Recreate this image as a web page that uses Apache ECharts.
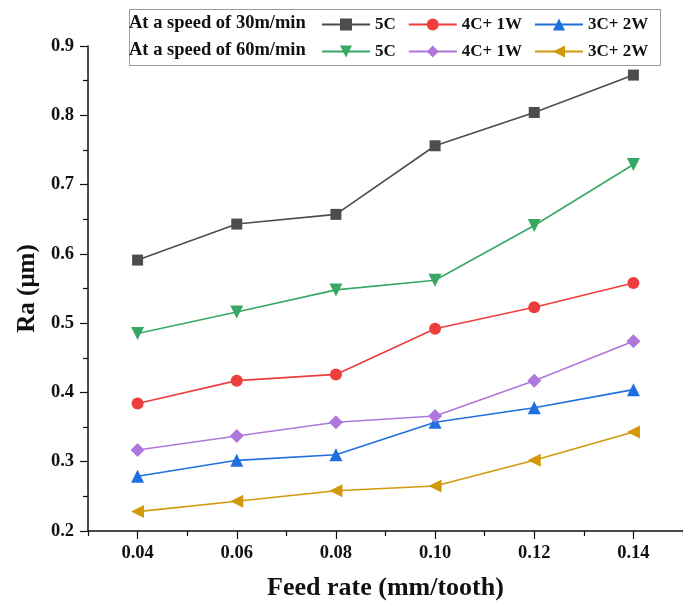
<!DOCTYPE html>
<html>
<head>
<meta charset="utf-8">
<script src="https://cdn.jsdelivr.net/npm/echarts@6/dist/echarts.min.js"></script>
<style>
  html, body { margin: 0; padding: 0; background: #fff; }
  #chart { width: 683px; height: 606px; }
</style>
</head>
<body>
<div id="chart"></div>
<script>
const feedRates = [0.04, 0.06, 0.08, 0.10, 0.12, 0.14]
const xTicks = [0.04, 0.06, 0.08, 0.10, 0.12, 0.14]
const xMinorTicks = [0.03, 0.05, 0.07, 0.09, 0.11, 0.13, 0.15]

// speed 30 m/min
const s30_5C = [0.591, 0.643, 0.657, 0.756, 0.804, 0.858]
const s30_4C1W = [0.384, 0.417, 0.426, 0.492, 0.523, 0.558]
const s30_3C2W = [0.279, 0.302, 0.310, 0.357, 0.378, 0.404]
// speed 60 m/min
const s60_5C = [0.485, 0.516, 0.548, 0.562, 0.641, 0.729]
const s60_4C1W = [0.317, 0.337, 0.357, 0.366, 0.417, 0.474]
const s60_3C2W = [0.228, 0.243, 0.258, 0.265, 0.302, 0.343]

const rowLabels = ['At a speed of 30m/min', 'At a speed of 60m/min']

const FONT = '"Liberation Serif", "DejaVu Serif", serif'
const downTri = 'path://M0,0 L10,0 L5,9 Z'
const leftTri = 'path://M10,0 L10,10 L1,5 Z'

const mk = (name, data, color, symbol, size) => ({
  name,
  type: 'line',
  data: data.map((v, i) => [feedRates[i], v]),
  symbol,
  symbolSize: size,
  color,
  lineStyle: { width: 1.6, color },
  itemStyle: { color },
  emphasis: { disabled: true },
  animation: false
})

const series = [
  mk('a|5C', s30_5C, '#4d4d4d', 'rect', 11),
  mk('a|4C+ 1W', s30_4C1W, '#ee3d3d', 'circle', 12),
  mk('a|3C+ 2W', s30_3C2W, '#1f6fde', 'triangle', 13),
  mk('b|5C', s60_5C, '#37a864', downTri, 13),
  mk('b|4C+ 1W', s60_4C1W, '#b077db', 'diamond', 14),
  mk('b|3C+ 2W', s60_3C2W, '#d29a0a', leftTri, 13)
]

const legendBase = {
  left: 321,
  padding: 0,
  itemWidth: 48,
  itemHeight: 15,
  itemGap: 12,
  selectedMode: false,
  formatter: n => n.split('|')[1],
  textStyle: { fontFamily: FONT, fontSize: 17, fontWeight: 'bold', color: '#111' }
}

const chart = echarts.init(document.getElementById('chart'))
chart.setOption({
  backgroundColor: '#fff',
  animation: false,
  grid: { left: 88, top: 46, width: 604, height: 487 },
  legend: [
    Object.assign({}, legendBase, { top: 16, data: series.slice(0, 3).map(s => s.name) }),
    Object.assign({}, legendBase, { top: 43, data: series.slice(3).map(s => s.name) })
  ],
  graphic: [
    { type: 'rect', left: 127, top: 7, shape: { width: 531, height: 56 },
      style: { fill: 'none', stroke: '#9a9a9a', lineWidth: 1 } },
    { type: 'text', left: 129, top: 14, style: { text: rowLabels[0], font: 'bold 18.5px ' + FONT, fill: '#111' } },
    { type: 'text', left: 129, top: 41, style: { text: rowLabels[1], font: 'bold 18.5px ' + FONT, fill: '#111' } }
  ],
  xAxis: [
    {
      type: 'value', min: 0.03, max: 0.15,
      name: 'Feed rate (mm/tooth)', nameLocation: 'middle', nameGap: 44,
      nameTextStyle: { fontFamily: FONT, fontSize: 26, fontWeight: 'bold', color: '#111' },
      axisLine: { lineStyle: { color: '#111', width: 1.5 } },
      axisTick: { customValues: xTicks, length: 8, lineStyle: { color: '#111', width: 1.2 } },
      axisLabel: { customValues: xTicks, margin: 13, formatter: v => v.toFixed(2),
        fontFamily: FONT, fontSize: 18.5, fontWeight: 'bold', color: '#111' },
      splitLine: { show: false }
    },
    {
      type: 'value', min: 0.03, max: 0.15, position: 'bottom',
      axisLine: { show: false },
      axisTick: { customValues: xMinorTicks, length: 5, lineStyle: { color: '#111', width: 1.2 } },
      axisLabel: { show: false },
      splitLine: { show: false }
    }
  ],
  yAxis: {
    type: 'value', min: 0.2, max: 0.9, interval: 0.1,
    name: 'Ra (μm)', nameLocation: 'middle', nameGap: 46,
    nameTextStyle: { fontFamily: FONT, fontSize: 25, fontWeight: 'bold', color: '#111' },
    axisLine: { show: true, lineStyle: { color: '#111', width: 1.5 } },
    axisTick: { show: true, length: 8, lineStyle: { color: '#111', width: 1.2 } },
    minorTick: { show: true, splitNumber: 2, length: 5, lineStyle: { color: '#111', width: 1.2 } },
    axisLabel: { margin: 14, formatter: v => v.toFixed(1),
      fontFamily: FONT, fontSize: 18.5, fontWeight: 'bold', color: '#111' },
    splitLine: { show: false }
  },
  series
})
</script>
</body>
</html>
